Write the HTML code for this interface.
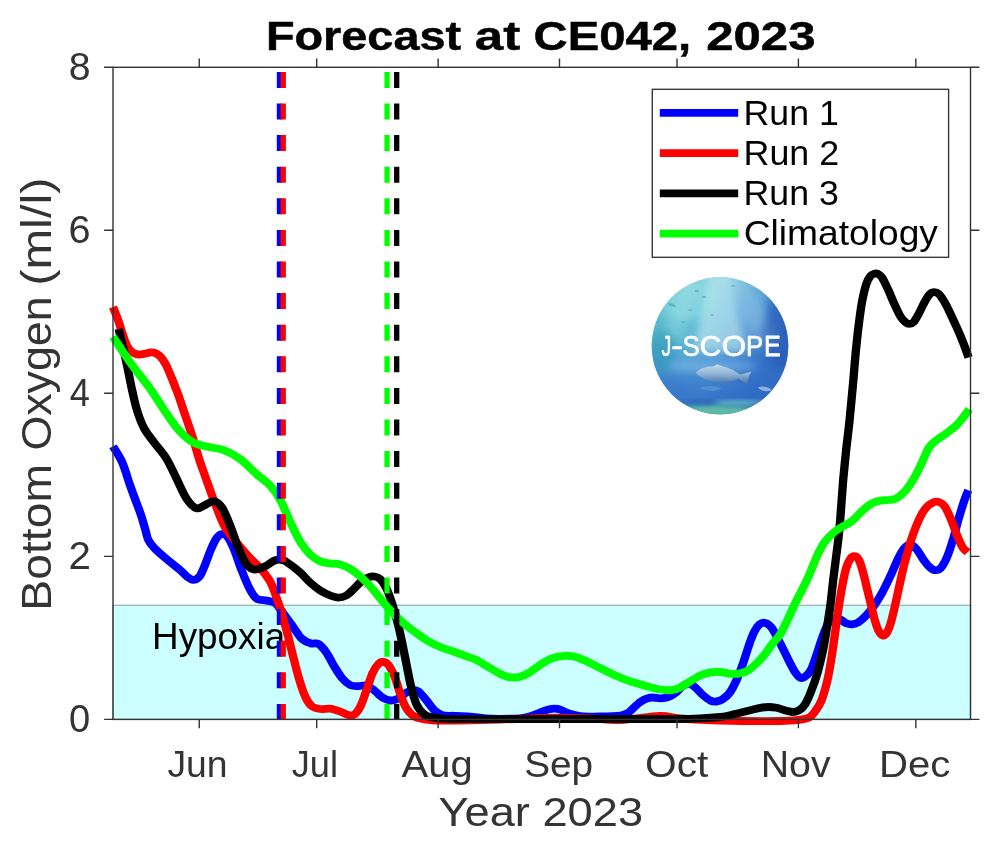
<!DOCTYPE html>
<html><head><meta charset="utf-8"><title>Forecast at CE042, 2023</title>
<style>html,body{margin:0;padding:0;background:#fff}svg{display:block}text{font-family:"Liberation Sans",sans-serif}</style></head>
<body>
<svg width="1000" height="847" viewBox="0 0 1000 847">
<defs>
<clipPath id="axclip"><rect x="104" y="60" width="875" height="668"/></clipPath>
<clipPath id="logoclip"><ellipse cx="720" cy="345.8" rx="68.3" ry="68.5"/></clipPath>
<linearGradient id="lgbase" x1="0" y1="0" x2="1" y2="0.25">
<stop offset="0" stop-color="#4db6c4"/><stop offset="0.35" stop-color="#5cbcd2"/><stop offset="0.62" stop-color="#4a94d6"/><stop offset="0.85" stop-color="#2c66c4"/><stop offset="1" stop-color="#2555b4"/>
</linearGradient>
<linearGradient id="lgv" x1="0" y1="0" x2="0" y2="1">
<stop offset="0" stop-color="#8fdde0" stop-opacity="0.6"/><stop offset="0.4" stop-color="#70c4dc" stop-opacity="0.25"/><stop offset="0.62" stop-color="#3f80d0" stop-opacity="0.55"/><stop offset="0.88" stop-color="#2f6cc6" stop-opacity="0.8"/><stop offset="1" stop-color="#3b8fa8" stop-opacity="0.9"/>
</linearGradient>
<linearGradient id="fishg" x1="0" y1="0" x2="0" y2="1">
<stop offset="0" stop-color="#c4dcee"/><stop offset="0.5" stop-color="#8cb0d2"/><stop offset="1" stop-color="#3a6aa6"/>
</linearGradient>
<filter id="b2" x="-30%" y="-30%" width="160%" height="160%"><feGaussianBlur stdDeviation="2"/></filter>
<filter id="b4" x="-30%" y="-30%" width="160%" height="160%"><feGaussianBlur stdDeviation="4"/></filter>
<filter id="b06" x="-10%" y="-10%" width="120%" height="120%"><feGaussianBlur stdDeviation="0.6"/></filter>
</defs>

<rect width="1000" height="847" fill="#fff"/>
<rect x="113.0" y="605.3" width="857.5" height="114.1" fill="#ccffff" stroke="#9fb3b3" stroke-width="1.3"/>
<g clip-path="url(#axclip)" fill="none" stroke-linejoin="round">
<g opacity="0.995"><text transform="translate(152.03,649.30) scale(1.0244,1.0)" font-size="36.0" font-weight="normal" fill="#000">Hypoxia</text></g>
<path transform="scale(1.07,1)" d="M105.6,446.4C107.0,449.0 111.4,455.6 114.1,462.1C116.8,468.6 119.4,478.9 121.6,485.5C123.8,492.1 125.4,496.6 127.1,501.5C128.8,506.4 130.3,510.3 131.7,514.8C133.1,519.3 134.4,524.3 135.5,528.5C136.7,532.7 137.1,536.5 138.6,539.8C140.1,543.1 141.6,545.1 144.5,548.4C147.4,551.7 152.2,555.9 156.1,559.4C159.9,562.9 164.5,566.5 167.6,569.3C170.7,572.1 172.4,574.6 174.6,576.4C176.7,578.1 178.4,579.7 180.4,579.8C182.3,579.9 184.4,579.0 186.2,576.9C187.9,574.8 189.0,571.5 190.7,567.2C192.5,562.9 194.7,555.8 196.5,551.0C198.4,546.2 200.3,541.4 202.1,538.6C203.8,535.8 205.2,534.7 206.8,534.2C208.4,533.7 209.9,533.2 211.8,535.6C213.7,538.0 216.0,542.6 218.3,548.4C220.7,554.2 223.4,563.8 225.9,570.5C228.4,577.2 230.9,583.9 233.2,588.6C235.5,593.3 237.1,596.6 239.8,598.6C242.5,600.6 246.4,599.9 249.3,600.6C252.1,601.3 254.5,601.1 256.7,602.7C259.0,604.3 260.0,606.6 262.6,610.2C265.2,613.8 269.1,619.6 272.2,624.2C275.4,628.8 278.4,634.8 281.4,638.0C284.4,641.2 287.6,642.3 290.3,643.3C292.9,644.3 295.0,642.4 297.4,643.9C299.8,645.4 302.4,648.5 304.9,652.3C307.4,656.0 309.9,662.0 312.4,666.4C314.9,670.8 317.4,675.3 319.9,678.4C322.4,681.5 324.9,683.8 327.4,685.1C329.9,686.4 332.4,686.0 335.0,686.1C337.5,686.2 339.9,684.8 342.4,685.5C344.9,686.2 347.4,688.5 349.9,690.5C352.4,692.5 354.9,695.8 357.4,697.5C359.9,699.2 362.4,700.3 365.0,700.5C367.5,700.7 369.9,699.8 372.4,698.5C374.9,697.2 377.7,693.9 379.9,692.5C382.1,691.1 383.7,690.3 385.6,690.1C387.5,689.9 389.0,689.8 391.2,691.5C393.4,693.2 396.2,697.3 398.7,700.5C401.2,703.7 403.8,708.1 406.3,710.6C408.8,713.1 410.6,714.4 413.7,715.3C416.9,716.2 420.7,715.6 425.0,715.8C429.2,716.0 434.5,716.2 439.3,716.6C444.0,717.0 448.6,717.9 453.3,718.3C457.9,718.7 461.8,718.8 467.3,718.8C472.7,718.8 481.3,718.7 486.0,718.3C490.7,717.9 492.4,717.3 495.6,716.3C498.8,715.3 502.1,713.4 505.0,712.3C507.8,711.2 510.3,710.2 512.5,709.6C514.7,709.0 516.3,708.7 518.1,708.7C520.0,708.7 521.6,708.8 523.7,709.6C525.9,710.4 528.1,712.2 531.2,713.3C534.3,714.4 537.5,715.6 542.5,716.1C547.5,716.6 555.1,716.6 561.3,716.5C567.6,716.4 575.6,716.2 580.0,715.5C584.4,714.8 585.1,714.1 587.6,712.4C590.1,710.6 593.1,706.8 595.0,705.0C597.0,703.2 597.6,702.5 599.1,701.5C600.5,700.5 602.0,699.6 603.7,698.9C605.5,698.2 607.1,697.6 609.3,697.5C611.5,697.4 614.4,698.3 616.9,698.3C619.4,698.2 621.9,698.2 624.4,697.2C626.9,696.2 629.7,694.3 631.9,692.5C634.1,690.7 635.7,688.0 637.6,686.5C639.5,685.0 641.3,683.5 643.2,683.5C645.0,683.5 646.6,684.7 648.8,686.5C651.0,688.3 653.8,692.2 656.3,694.5C658.8,696.8 661.6,699.3 663.8,700.5C666.0,701.7 667.6,701.7 669.4,701.5C671.3,701.3 672.9,701.0 675.0,699.5C677.2,698.0 680.0,695.7 682.1,692.5C684.3,689.3 686.2,685.1 688.2,680.4C690.2,675.7 692.2,670.1 694.1,664.4C696.0,658.7 697.9,651.7 699.6,646.3C701.4,640.9 703.0,635.9 704.7,632.2C706.4,628.6 708.1,626.0 709.8,624.4C711.6,622.8 713.4,622.4 715.2,622.9C717.1,623.4 718.9,624.6 720.8,627.2C722.8,629.8 724.8,634.4 726.7,638.3C728.7,642.1 730.6,646.3 732.5,650.3C734.4,654.3 736.3,658.7 738.0,662.4C739.8,666.1 741.6,669.9 743.2,672.4C744.8,674.9 746.3,676.8 747.7,677.6C749.0,678.4 749.7,678.6 751.4,677.4C753.1,676.2 755.7,674.2 757.7,670.4C759.6,666.5 761.4,660.0 763.3,654.3C765.1,648.6 767.0,641.6 768.9,636.3C770.8,630.9 772.9,625.2 774.6,622.2C776.2,619.2 776.9,618.8 778.7,618.3C780.5,617.8 783.2,618.5 785.2,619.3C787.3,620.1 789.0,622.5 790.8,623.3C792.7,624.1 794.6,624.5 796.4,624.3C798.3,624.1 800.0,623.8 802.1,622.3C804.3,620.8 807.1,618.1 809.6,615.3C812.1,612.5 814.6,609.1 817.1,605.3C819.6,601.4 822.2,597.1 824.7,592.2C827.2,587.3 829.7,581.8 832.1,576.1C834.6,570.4 837.4,562.8 839.6,558.1C841.8,553.4 843.4,550.2 845.3,548.0C847.2,545.8 849.1,544.8 850.9,545.0C852.8,545.2 854.7,546.8 856.5,549.0C858.4,551.2 860.3,555.2 862.1,558.1C864.0,561.0 866.0,564.1 867.9,566.1C869.7,568.1 871.6,569.8 873.5,570.1C875.3,570.4 877.2,570.1 879.1,568.1C880.9,566.1 882.8,562.7 884.7,558.1C886.6,553.5 888.5,547.1 890.4,540.5C892.3,533.9 894.1,525.3 896.0,518.4C897.9,511.5 900.1,504.0 901.6,499.3C903.1,494.6 904.4,491.7 905.0,490.2" stroke="#0000ff" stroke-width="7.8"/>
<path transform="scale(1.07,1)" d="M105.6,307.0C106.4,309.1 108.9,315.6 110.3,319.8C111.7,324.0 112.9,328.5 114.0,332.2C115.2,335.9 116.2,339.4 117.2,342.1C118.2,344.8 118.8,346.5 120.1,348.3C121.4,350.1 123.2,352.0 124.8,353.0C126.3,354.0 127.7,354.4 129.4,354.5C131.2,354.6 133.3,354.1 135.2,353.7C137.1,353.3 139.2,352.5 140.9,352.4C142.7,352.3 144.0,352.4 145.6,353.2C147.2,354.0 148.7,355.1 150.3,357.0C151.8,358.9 153.3,361.3 154.9,364.4C156.4,367.5 158.0,371.6 159.5,375.5C161.1,379.4 162.8,384.2 164.1,387.9C165.5,391.6 166.2,393.7 167.6,397.8C168.9,401.9 170.2,406.0 172.2,412.5C174.3,419.0 177.5,428.7 179.8,436.6C182.2,444.5 184.5,453.8 186.4,460.0C188.2,466.2 188.7,467.1 191.0,474.1C193.4,481.1 197.3,493.5 200.5,502.2C203.6,510.9 206.4,519.6 209.8,526.3C213.2,533.0 217.3,537.4 221.0,542.4C224.8,547.4 228.6,552.1 232.3,556.5C236.1,560.9 240.1,564.1 243.6,568.5C247.0,572.9 250.6,578.0 253.0,582.6C255.4,587.2 256.2,590.8 257.9,596.1C259.7,601.4 261.7,607.5 263.6,614.2C265.4,620.9 267.4,628.6 269.3,636.3C271.1,644.0 273.0,652.7 274.9,660.4C276.7,668.1 278.6,676.0 280.5,682.4C282.3,688.8 284.2,694.5 286.1,698.5C288.0,702.5 289.6,704.8 291.8,706.5C294.0,708.2 296.4,708.6 299.3,709.0C302.1,709.4 305.5,708.2 308.6,708.6C311.7,709.0 315.2,710.5 318.0,711.6C320.9,712.7 323.3,714.5 325.5,715.0C327.7,715.5 329.2,716.0 331.1,714.6C333.0,713.2 334.9,710.5 336.8,706.5C338.7,702.5 340.6,696.0 342.4,690.5C344.3,685.0 346.2,677.8 348.0,673.4C349.9,669.0 351.9,665.9 353.6,664.0C355.4,662.1 356.8,661.6 358.4,661.8C360.0,662.0 361.4,662.6 363.1,665.0C364.8,667.4 366.8,671.5 368.7,676.4C370.6,681.3 372.4,689.1 374.3,694.5C376.2,699.9 377.7,704.8 379.9,708.5C382.1,712.2 384.3,714.8 387.5,716.6C390.6,718.5 394.6,718.9 398.7,719.6C402.8,720.3 400.4,720.6 411.9,720.6C423.3,720.6 451.8,719.9 467.3,719.5C482.8,719.1 495.3,718.3 504.7,718.0C514.0,717.7 515.6,717.5 523.4,717.6C531.2,717.7 542.1,718.1 551.4,718.5C560.7,718.9 568.5,720.4 579.4,720.0C590.3,719.6 607.5,716.2 616.8,716.0C626.2,715.8 626.2,717.8 635.5,718.5C644.9,719.2 657.3,720.1 672.9,720.5C688.5,720.9 716.4,721.1 729.0,721.0C741.5,720.9 743.6,720.2 748.2,719.6C752.9,719.0 754.5,718.6 756.7,717.2C759.0,715.8 760.0,714.0 761.9,711.2C763.7,708.4 765.8,705.7 767.7,700.6C769.5,695.5 771.7,687.3 773.2,680.6C774.7,673.9 775.6,667.9 776.7,660.5C777.9,653.1 778.9,644.8 780.0,636.4C781.1,628.0 782.2,618.7 783.4,610.3C784.5,601.9 785.9,593.2 787.1,586.2C788.3,579.2 789.5,572.8 790.8,568.1C792.2,563.4 793.8,560.1 795.2,558.1C796.6,556.1 798.0,555.9 799.3,556.3C800.5,556.7 801.8,557.9 803.0,560.5C804.2,563.1 805.3,567.5 806.5,572.1C807.7,576.7 809.0,582.8 810.2,588.2C811.4,593.6 812.7,598.9 813.9,604.3C815.2,609.6 816.4,615.9 817.6,620.3C818.7,624.6 819.8,627.9 820.9,630.4C822.1,632.9 823.4,634.9 824.7,635.4C825.9,635.9 827.2,635.2 828.4,633.4C829.7,631.5 830.9,628.5 832.1,624.3C833.4,620.1 834.6,614.0 835.9,608.3C837.1,602.6 838.4,596.2 839.6,590.2C840.9,584.2 842.1,577.8 843.4,572.1C844.6,566.4 845.9,561.1 847.2,556.1C848.5,551.1 849.7,546.3 850.9,542.0C852.2,537.7 853.1,534.7 854.7,530.4C856.2,526.1 858.4,520.2 860.3,516.4C862.1,512.5 864.0,509.6 865.9,507.3C867.8,505.0 869.7,503.6 871.6,502.7C873.5,501.8 875.3,501.3 877.2,501.9C879.1,502.5 880.9,503.6 882.8,506.3C884.7,509.1 886.5,513.7 888.4,518.4C890.3,523.1 892.2,529.6 894.1,534.5C896.0,539.4 898.0,544.5 899.7,547.5C901.4,550.5 903.5,551.4 904.3,552.2" stroke="#ff0000" stroke-width="7.8"/>
<path transform="scale(1.07,1)" d="M110.9,329.0C111.7,332.5 114.1,343.3 115.6,350.2C117.1,357.1 118.4,363.6 119.7,370.3C121.0,377.0 122.1,383.7 123.5,390.4C124.9,397.1 126.2,404.1 128.1,410.5C130.0,416.9 132.1,423.2 134.8,428.6C137.4,434.0 140.7,437.6 144.1,442.6C147.6,447.6 152.0,452.5 155.4,458.4C158.9,464.3 161.7,471.6 164.8,478.2C167.9,484.8 171.0,493.2 174.1,498.2C177.2,503.2 180.4,507.3 183.6,508.3C186.7,509.3 190.1,505.5 192.9,504.3C195.7,503.1 198.0,500.5 200.5,501.2C203.0,501.9 205.5,504.1 207.9,508.3C210.4,512.5 212.9,519.6 215.4,526.3C217.9,533.0 220.5,542.0 223.0,548.4C225.5,554.8 228.0,561.0 230.5,564.5C233.0,568.0 235.1,569.2 237.9,569.5C240.8,569.8 244.3,568.0 247.4,566.5C250.5,565.0 253.9,561.6 256.7,560.5C259.5,559.4 261.8,559.5 264.2,560.1C266.6,560.8 268.3,562.4 271.0,564.4C273.7,566.4 277.3,569.4 280.5,572.4C283.6,575.4 286.7,579.5 289.8,582.5C292.9,585.5 296.1,588.3 299.3,590.5C302.4,592.7 305.8,594.3 308.6,595.5C311.4,596.7 313.6,597.6 316.1,597.6C318.6,597.6 321.1,597.0 323.6,595.5C326.2,594.0 328.6,591.0 331.1,588.5C333.6,586.0 336.4,582.4 338.6,580.5C340.8,578.6 342.4,578.0 344.3,577.3C346.2,576.6 348.0,576.2 349.9,576.5C351.8,576.8 353.6,577.3 355.5,579.3C357.4,581.3 359.3,584.1 361.1,588.3C363.0,592.5 364.8,598.1 366.7,604.4C368.6,610.7 370.5,617.9 372.4,626.2C374.3,634.5 376.2,644.6 378.0,654.3C379.9,664.0 381.9,676.1 383.7,684.5C385.6,692.9 387.2,699.5 389.3,704.5C391.5,709.5 394.0,712.4 396.8,714.6C399.6,716.8 402.2,717.1 406.3,717.8C410.3,718.5 415.7,718.8 421.2,719.0C426.7,719.2 422.2,719.2 439.3,719.2C456.3,719.2 496.9,719.0 523.4,719.0C549.8,719.0 580.0,719.0 598.1,719.0C616.2,719.0 622.5,719.1 631.9,719.0C641.2,718.9 647.5,718.7 654.4,718.4C661.3,718.1 668.5,717.5 673.2,717.0C677.8,716.5 679.2,715.9 682.2,715.2C685.3,714.5 688.4,713.6 691.6,712.8C694.8,712.0 698.1,711.0 701.3,710.2C704.5,709.4 707.9,708.3 710.7,707.8C713.6,707.3 715.7,707.0 718.2,707.0C720.7,707.0 723.2,707.3 725.7,707.8C728.2,708.3 730.8,709.5 733.3,710.2C735.8,710.9 738.6,711.9 740.7,712.0C742.9,712.1 744.4,711.9 746.4,710.6C748.3,709.4 750.3,707.9 752.3,704.5C754.3,701.1 756.4,695.9 758.3,690.5C760.3,685.1 762.3,679.1 764.1,672.4C765.9,665.6 767.8,656.7 769.2,650.0C770.5,643.3 770.9,639.7 772.1,632.4C773.2,625.1 774.8,615.0 775.9,606.3C777.0,597.6 777.8,588.6 778.7,580.2C779.6,571.8 780.7,562.8 781.5,556.1C782.3,549.4 782.7,546.0 783.4,540.0C784.0,534.0 784.5,530.4 785.2,520.4C786.0,510.4 787.1,491.9 788.0,480.2C789.0,468.5 789.8,460.1 790.8,450.1C791.8,440.1 792.9,431.6 794.0,420.0C795.1,408.4 796.4,392.8 797.5,380.5C798.5,368.2 799.3,356.4 800.3,346.4C801.2,336.4 802.1,328.0 803.1,320.3C804.0,312.6 804.8,306.2 805.9,300.2C807.0,294.2 808.4,288.1 809.6,284.1C810.9,280.1 812.1,277.8 813.4,276.1C814.6,274.4 815.8,274.0 817.1,273.7C818.4,273.4 819.7,273.4 820.9,274.1C822.2,274.8 823.1,275.4 824.7,278.1C826.2,280.8 828.4,285.9 830.3,290.2C832.1,294.5 834.0,299.8 835.9,304.2C837.8,308.6 839.8,313.3 841.5,316.3C843.2,319.3 844.8,321.0 846.3,322.3C847.7,323.6 848.8,323.9 850.0,323.9C851.2,323.9 852.3,323.9 853.7,322.3C855.1,320.7 856.7,317.7 858.4,314.3C860.1,310.9 862.3,305.6 864.0,302.2C865.7,298.8 867.4,295.9 868.8,294.2C870.2,292.5 871.1,292.3 872.5,292.2C873.9,292.1 875.5,292.1 877.2,293.8C878.9,295.5 880.9,298.8 882.8,302.2C884.7,305.6 886.6,310.1 888.5,314.3C890.4,318.5 892.2,322.8 894.1,327.3C896.0,331.8 897.9,336.4 899.7,341.4C901.6,346.4 904.3,354.7 905.2,357.4" stroke="#000" stroke-width="7.8"/>
<path transform="scale(1.07,1)" d="M105.6,336.7C108.3,341.0 115.8,353.6 121.6,362.3C127.4,371.0 134.7,380.3 140.4,388.8C146.0,397.3 150.7,406.0 155.4,413.2C160.1,420.4 164.1,426.8 168.5,431.8C172.9,436.8 177.0,440.4 181.7,443.0C186.4,445.6 191.9,446.1 196.6,447.3C201.3,448.5 205.1,448.3 209.8,450.3C214.5,452.3 219.9,455.4 224.9,459.4C229.9,463.4 235.1,469.6 239.8,474.1C244.5,478.6 249.3,481.9 253.0,486.2C256.7,490.5 259.0,494.2 262.1,500.2C265.1,506.2 268.3,515.4 271.4,522.3C274.5,529.2 277.3,536.0 280.4,541.4C283.4,546.8 286.7,551.1 289.8,554.4C293.0,557.7 296.1,559.9 299.3,561.4C302.4,562.9 305.5,562.9 308.6,563.4C311.7,563.9 314.8,563.5 317.9,564.4C321.1,565.3 324.3,566.9 327.4,568.9C330.5,570.9 333.6,573.6 336.7,576.5C339.9,579.4 343.0,582.8 346.2,586.5C349.3,590.2 352.4,594.6 355.5,598.6C358.6,602.6 361.7,606.7 364.9,610.4C368.0,614.1 371.2,617.5 374.3,620.6C377.4,623.7 379.6,625.4 383.6,628.7C387.7,632.0 394.0,637.2 398.7,640.3C403.4,643.4 408.1,645.6 411.9,647.3C415.6,649.0 417.8,649.4 421.3,650.7C424.8,652.0 429.0,653.6 432.9,655.1C436.7,656.6 440.5,657.7 444.4,659.6C448.2,661.5 452.1,664.4 456.0,666.8C459.8,669.2 464.7,672.4 467.6,674.0C470.5,675.6 471.4,675.8 473.4,676.4C475.3,677.0 477.3,677.5 479.4,677.5C481.5,677.5 483.4,677.5 486.0,676.7C488.5,675.9 491.4,674.6 494.7,672.6C497.9,670.6 501.8,666.9 505.4,664.5C509.0,662.1 512.6,659.7 516.3,658.2C519.9,656.8 523.7,656.0 527.5,655.8C531.2,655.6 535.0,656.1 538.8,657.2C542.5,658.3 546.2,660.4 550.0,662.2C553.8,664.1 557.6,666.3 561.3,668.3C565.1,670.3 568.8,672.5 572.5,674.3C576.3,676.1 580.1,677.8 583.8,679.3C587.6,680.8 591.3,682.1 595.0,683.3C598.8,684.5 602.7,685.7 606.4,686.7C610.0,687.7 613.2,688.9 616.8,689.5C620.5,690.1 625.0,690.4 628.1,690.1C631.3,689.8 632.9,689.0 635.7,687.5C638.5,686.0 641.9,683.4 645.0,681.4C648.2,679.4 651.3,676.9 654.4,675.4C657.5,673.9 660.7,673.0 663.8,672.4C667.0,671.8 670.0,671.8 673.2,672.0C676.3,672.2 679.5,673.6 682.6,673.8C685.7,674.0 689.2,674.0 692.0,673.4C694.8,672.8 696.9,671.9 699.4,670.2C701.9,668.5 704.5,666.0 707.0,663.4C709.5,660.8 712.0,657.9 714.5,654.6C717.0,651.3 719.6,646.9 722.0,643.6C724.3,640.3 726.4,638.9 728.8,635.0C731.1,631.1 733.7,625.1 736.0,620.0C738.3,614.9 740.6,609.0 742.7,604.3C744.8,599.6 746.7,596.1 748.6,592.0C750.5,587.9 752.5,583.8 754.3,579.6C756.1,575.4 757.7,571.1 759.3,567.0C761.0,562.9 762.3,558.9 764.1,554.8C766.0,550.7 768.1,546.0 770.5,542.4C772.9,538.8 775.8,535.6 778.6,533.0C781.4,530.4 784.1,528.8 787.1,526.8C790.1,524.8 793.3,523.7 796.4,521.0C799.6,518.3 802.8,513.8 805.9,510.8C809.0,507.8 812.4,504.9 815.2,503.2C818.1,501.5 820.3,501.1 822.8,500.6C825.3,500.1 827.8,500.4 830.3,500.0C832.8,499.6 835.2,499.8 837.8,498.4C840.3,496.9 843.1,494.5 845.8,491.3C848.5,488.1 851.2,483.8 853.7,479.2C856.3,474.6 858.9,468.7 861.2,463.5C863.6,458.3 865.5,452.0 867.9,448.1C870.2,444.2 872.5,442.6 875.3,440.1C878.1,437.6 881.5,435.6 884.7,433.1C887.8,430.6 891.5,427.7 894.1,425.0C896.7,422.3 898.5,419.6 900.5,417.0C902.4,414.4 905.0,410.6 905.9,409.3" stroke="#00ff00" stroke-width="7.8"/>
<line x1="279.45" y1="719.4" x2="279.45" y2="67.3" stroke="#0000ff" stroke-width="5.3" stroke-dasharray="16 15.6" stroke-dashoffset="0.5"/>
<line x1="283.25" y1="719.4" x2="283.25" y2="67.3" stroke="#ff0000" stroke-width="5.3" stroke-dasharray="16 15.6" stroke-dashoffset="0.5"/>
<line x1="396.7" y1="719.4" x2="396.7" y2="67.3" stroke="#000" stroke-width="5.3" stroke-dasharray="16 15.6" stroke-dashoffset="0.5"/>
<line x1="387.05" y1="719.4" x2="387.05" y2="67.3" stroke="#00ff00" stroke-width="5.3" stroke-dasharray="16 15.6" stroke-dashoffset="0.5"/>
</g>
<g stroke="#333" stroke-width="1.4" fill="none">
<rect x="113.0" y="67.3" width="857.5" height="652.1"/>
<path d="M199.25,719.4v8.9M199.25,67.3v-8.9M316.7,719.4v8.9M316.7,67.3v-8.9M438.1,719.4v8.9M438.1,67.3v-8.9M559.5,719.4v8.9M559.5,67.3v-8.9M677.0,719.4v8.9M677.0,67.3v-8.9M798.4,719.4v8.9M798.4,67.3v-8.9M915.85,719.4v8.9M915.85,67.3v-8.9M113.0,719.4h-8.9M970.5,719.4h8.9M113.0,556.4h-8.9M970.5,556.4h8.9M113.0,393.3h-8.9M970.5,393.3h8.9M113.0,230.3h-8.9M970.5,230.3h8.9M113.0,67.3h-8.9M970.5,67.3h8.9"/>
</g>
<rect x="652.3" y="89.3" width="296.3" height="168.0" fill="#fff" stroke="#333" stroke-width="1.35"/>
<line x1="659.8" y1="112.9" x2="738.2" y2="112.9" stroke="#0000ff" stroke-width="7.8"/>
<line x1="659.8" y1="153.2" x2="738.2" y2="153.2" stroke="#ff0000" stroke-width="7.8"/>
<line x1="659.8" y1="193.4" x2="738.2" y2="193.4" stroke="#000" stroke-width="7.8"/>
<line x1="659.8" y1="233.7" x2="738.2" y2="233.7" stroke="#00ff00" stroke-width="7.8"/>
<g clip-path="url(#logoclip)">
<rect x="650" y="276" width="140" height="140" fill="url(#lgbase)"/>
<rect x="650" y="276" width="140" height="140" fill="url(#lgv)"/>
<path d="M708,272 L730,272 L748,352 L694,352Z" fill="#d4f4f4" opacity="0.55" filter="url(#b4)"/>
<path d="M724,272 L740,272 L782,338 L756,350Z" fill="#bfe6f2" opacity="0.3" filter="url(#b4)"/>
<path d="M690,272 L704,272 L680,340 L660,336Z" fill="#c8f0f0" opacity="0.22" filter="url(#b4)"/>
<ellipse cx="785" cy="330" rx="22" ry="40" fill="#2453b6" opacity="0.55" filter="url(#b4)"/>
<ellipse cx="688" cy="300" rx="30" ry="20" fill="#a4e8e6" opacity="0.38" filter="url(#b4)"/>
<ellipse cx="662" cy="350" rx="13" ry="22" fill="#2c94b2" opacity="0.5" filter="url(#b4)"/>
<ellipse cx="752" cy="312" rx="14" ry="20" fill="#7fb8e6" opacity="0.35" filter="url(#b4)"/>
<g fill="#2f8ea6" opacity="0.45" filter="url(#b06)"><ellipse cx="672" cy="305" rx="4" ry="1.2" transform="rotate(20 672 305)"/><ellipse cx="697" cy="291" rx="2.5" ry="0.9"/><ellipse cx="704" cy="297" rx="2.5" ry="0.9"/><ellipse cx="690" cy="310" rx="2.2" ry="0.8"/><ellipse cx="712" cy="315" rx="2.2" ry="0.8"/><ellipse cx="733" cy="286" rx="2.2" ry="0.8"/><ellipse cx="683" cy="322" rx="2.2" ry="0.8"/></g>
<ellipse cx="712" cy="366" rx="46" ry="6" fill="#8cc4ea" opacity="0.55" filter="url(#b4)"/>
<ellipse cx="668" cy="392" rx="22" ry="16" fill="#3874cc" opacity="0.5" filter="url(#b4)"/>
<ellipse cx="716" cy="411" rx="40" ry="5" fill="#62c0a4" opacity="0.95" filter="url(#b2)"/>
<ellipse cx="738" cy="402.5" rx="26" ry="2.2" fill="#7fd4c4" opacity="0.7" filter="url(#b2)"/>
<ellipse cx="700" cy="402" rx="20" ry="2" fill="#2858a8" opacity="0.5" filter="url(#b2)"/>
<g filter="url(#b06)">
<path d="M695.5,372.6 C701,367.5 708,366.4 713,366.6 L717,364.3 L723,366.6 C730,368 736,371.5 740,374.6 L751.5,371.4 C748.5,375.5 747.5,380 748.3,385 L738,378.5 C733,381.5 727,382.8 720,382.4 C710,382 700,378.5 695.5,372.6Z" fill="url(#fishg)"/>
<path d="M757.8,387.6 C762,385.6 768,386.6 772,390 C767,392.2 761,391.4 757.8,387.6Z" fill="#9cbfe0" opacity="0.85"/>
<path d="M700,388 C706,385 716,385.5 722,389 C715,391.5 706,391.5 700,388Z" fill="#6fa4dc" opacity="0.45"/>
</g>
</g>
<g opacity="0.995"><text transform="translate(661.47,356.20) scale(0.6531,1.0)" font-size="30.0" font-weight="normal" fill="#fff" stroke="#fff" stroke-width="0.75" stroke-linejoin="round">J</text><text transform="translate(671.33,356.20) scale(1.1733,1.0)" font-size="30.0" font-weight="normal" fill="#fff" stroke="#fff" stroke-width="0.75" stroke-linejoin="round">-</text><text transform="translate(682.60,356.20) scale(0.8647,1.0)" font-size="30.0" font-weight="normal" fill="#fff" stroke="#fff" stroke-width="0.75" stroke-linejoin="round">S</text><text transform="translate(699.72,356.20) scale(0.9895,1.0)" font-size="30.0" font-weight="normal" fill="#fff" stroke="#fff" stroke-width="0.75" stroke-linejoin="round">C</text><text transform="translate(721.73,356.20) scale(1.0439,1.0)" font-size="30.0" font-weight="normal" fill="#fff" stroke="#fff" stroke-width="0.75" stroke-linejoin="round">O</text><text transform="translate(745.88,356.20) scale(0.8500,1.0)" font-size="30.0" font-weight="normal" fill="#fff" stroke="#fff" stroke-width="0.75" stroke-linejoin="round">P</text><text transform="translate(764.11,356.20) scale(0.8369,1.0)" font-size="30.0" font-weight="normal" fill="#fff" stroke="#fff" stroke-width="0.75" stroke-linejoin="round">E</text></g>

<g opacity="0.995">
<text transform="translate(265.89,50.00) scale(1.1315,1.0)" font-size="41.4" font-weight="bold" fill="#000" stroke="#000" stroke-width="0.5">Forecast</text>
<text transform="translate(474.86,50.00) scale(1.2343,1.0)" font-size="41.4" font-weight="bold" fill="#000" stroke="#000" stroke-width="0.5">at</text>
<text transform="translate(533.50,50.00) scale(1.1423,1.0)" font-size="41.4" font-weight="bold" fill="#000" stroke="#000" stroke-width="0.5">CE042,</text>
<text transform="translate(706.22,50.00) scale(1.1865,1.0)" font-size="41.4" font-weight="bold" fill="#000" stroke="#000" stroke-width="0.5">2023</text>
<text transform="translate(167.45,776.60) scale(0.9956,1.0)" font-size="37.5" font-weight="normal" fill="#333333">Jun</text>
<text transform="translate(291.68,776.60) scale(0.9654,1.0)" font-size="37.5" font-weight="normal" fill="#333333">Jul</text>
<text transform="translate(401.53,776.60) scale(1.0656,1.0)" font-size="37.5" font-weight="normal" fill="#333333">Aug</text>
<text transform="translate(524.19,776.60) scale(1.0331,1.0)" font-size="37.5" font-weight="normal" fill="#333333">Sep</text>
<text transform="translate(645.10,776.60) scale(1.0844,1.0)" font-size="37.5" font-weight="normal" fill="#333333">Oct</text>
<text transform="translate(760.65,776.60) scale(1.0488,1.0)" font-size="37.5" font-weight="normal" fill="#333333">Nov</text>
<text transform="translate(878.99,776.60) scale(1.0709,1.0)" font-size="37.5" font-weight="normal" fill="#333333">Dec</text>
<text transform="translate(438.49,825.60) scale(1.1062,1.0)" font-size="40.9" font-weight="normal" fill="#333333">Year</text>
<text transform="translate(542.39,825.60) scale(1.1072,1.0)" font-size="40.9" font-weight="normal" fill="#333333">2023</text>
<text transform="translate(69.00,732.40) scale(1.0027,1.0)" font-size="38.0" font-weight="normal" fill="#333333">0</text>
<text transform="translate(68.38,569.38) scale(1.0609,1.0)" font-size="38.0" font-weight="normal" fill="#333333">2</text>
<text transform="translate(69.79,406.35) scale(0.9506,1.0)" font-size="38.0" font-weight="normal" fill="#333333">4</text>
<text transform="translate(68.41,243.32) scale(1.0457,1.0)" font-size="38.0" font-weight="normal" fill="#333333">6</text>
<text transform="translate(68.70,80.30) scale(1.0310,1.0)" font-size="38.0" font-weight="normal" fill="#333333">8</text>
<text transform="translate(743.56,124.80) scale(1.0140,1.0)" font-size="35.2" font-weight="normal" fill="#000">Run 1</text>
<text transform="translate(743.55,164.80) scale(1.0174,1.0)" font-size="35.2" font-weight="normal" fill="#000">Run 2</text>
<text transform="translate(743.56,204.80) scale(1.0145,1.0)" font-size="35.2" font-weight="normal" fill="#000">Run 3</text>
<text transform="translate(743.75,244.80) scale(1.0566,1.0)" font-size="35.2" font-weight="normal" fill="#000">Climatology</text>
<text transform="translate(50.80,610.68) rotate(-90) scale(1.0795,1.0)" font-size="42.9" font-weight="normal" fill="#333333">Bottom</text>
<text transform="translate(50.80,450.59) rotate(-90) scale(1.0434,1.0)" font-size="42.9" font-weight="normal" fill="#333333">Oxygen</text>
<text transform="translate(50.80,285.73) rotate(-90) scale(1.1365,1.0)" font-size="42.9" font-weight="normal" fill="#333333">(ml/l)</text>
</g>
</svg></body></html>
